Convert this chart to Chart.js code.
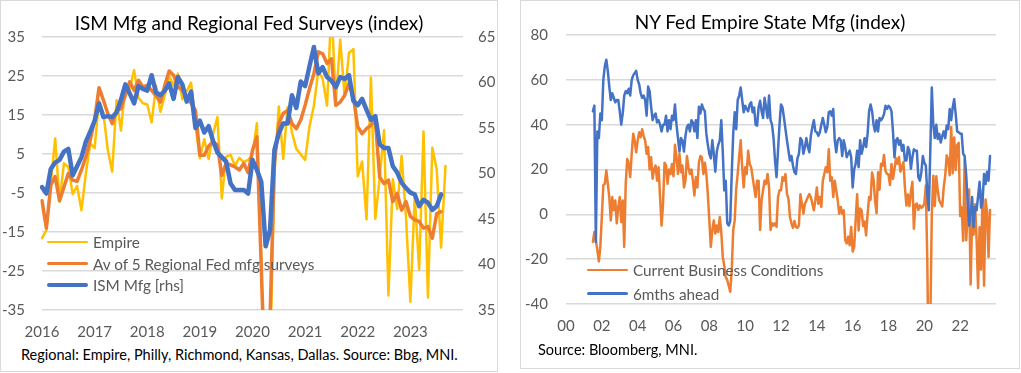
<!DOCTYPE html>
<html>
<head>
<meta charset="utf-8">
<script src="https://cdn.jsdelivr.net/npm/chart.js@4.4.0/dist/chart.umd.min.js"></script>
<style>
  html, body { margin: 0; padding: 0; background: #fff; }
  body { width: 1021px; height: 373px; position: relative; overflow: hidden; font-family: Lato, "Open Sans", sans-serif; }
  .panel { position: absolute; border: 1px solid #d9d9d9; box-sizing: border-box; background: #fff; }
  .txt { position: absolute; white-space: nowrap; z-index: 3; }
  .title { color: #000; font-size: 19px; line-height: 22px; text-align: center; }
  .foot { color: #000; font-size: 14.5px; line-height: 18px; }
  .canvasbox { position: absolute; z-index: 2; }
  .legend { position: absolute; z-index: 3; }
  .legend .row { position: absolute; left: 0; height: 20px; display: flex; align-items: center; white-space: nowrap; color: #595959; font-size: 15.3px; }
  .legend .sw { display: inline-block; width: 41px; margin-right: 5px; border-radius: 2px; }
</style>
</head>
<body>
  <div class="panel" style="left:0;top:0;width:498px;height:372px;"></div>
  <div class="panel" style="left:520px;top:0;width:500px;height:369px;"></div>

  <div class="txt title" style="left:0;width:498px;top:12px;">ISM Mfg and Regional Fed Surveys (index)</div>
  <div class="txt title" style="left:520px;width:500px;top:11px;">NY Fed Empire State Mfg (index)</div>

  <div class="canvasbox" style="left:1px;top:0;width:496px;height:345px;"><canvas id="left" width="496" height="345"></canvas></div>
  <div class="canvasbox" style="left:522px;top:0;width:496px;height:345px;"><canvas id="right" width="496" height="345"></canvas></div>

  <div id="legendLeft" class="legend" style="left:47px;top:232px;"></div>
  <div id="legendRight" class="legend" style="left:587px;top:260px;"></div>

  <div class="txt foot" style="left:21px;top:346px;">Regional: Empire, Philly, Richmond, Kansas, Dallas. Source: Bbg, MNI.</div>
  <div class="txt foot" style="left:538px;top:341px;">Source: Bloomberg, MNI.</div>

<script>
// ---------------- DATA ----------------
// Left chart: monthly category axis Jan 2016 .. Jan 2024
const leftAxisStart = '2016-01';
const leftAxisEnd = '2024-01';
const leftLastYearLabel = 2023;

// Empire State general business conditions (left chart), from Jan 2016
const empireLeft = [
  -16.6, -14.5, -2.6, 9.0, -7.2, 2.6, 1.7, -5.3, -3.2, -9.4, 0.0, 7.7,
  6.5, 18.7, 15.5, 6.0, 0.5, 18.8, 11.0, 22.6, 21.6, 26.5, 19.4, 18.0,
  17.7, 13.1, 22.5, 15.8, 20.1, 25.0, 22.6, 25.6, 19.0, 21.1, 23.3, 12.0,
  3.9, 8.8, 3.7, 10.1, 14.5, -6.4, 4.3, 4.8, 2.0, 4.0, 2.9, 3.5,
  4.8, 12.9, -21.5, -78.2, -48.5, -0.2, 17.2, 3.7, 17.0, 10.5, 6.3, 4.9,
  3.5, 12.1, 17.4, 26.3, 24.3, 17.4, 43.0, 18.3, 34.3, 19.8, 30.9, 31.9,
  -0.7, 3.1, -11.8, 24.6, -11.6, -1.2, 11.1, -31.3, -1.5, -9.1, 4.5, -11.2,
  -32.9, -5.8, -24.6, 10.8, -31.8, 6.6, 1.1, -19.0, 1.9
];

// Average of 5 regional Fed manufacturing surveys, from Jan 2016
const regionalAvg = [
  -7.0, -14.0, -3.0, -0.8, -7.0, -3.5, 0.0, -1.7, -2.0, 0.9, 4.3, 8.6,
  13.7, 22.0, 18.8, 15.4, 12.8, 16.2, 16.6, 20.0, 23.5, 21.3, 23.9, 22.2,
  22.6, 21.3, 20.0, 18.3, 22.6, 26.3, 25.2, 22.2, 21.3, 19.5, 18.0, 16.2,
  4.7, 4.7, 7.0, 8.2, 7.3, -0.5, 2.6, 2.2, 1.7, 0.9, 2.6, 0.2,
  6.0, 9.4, -24.0, -58.0, -37.0, 3.0, 12.8, 15.4, 16.2, 12.8, 11.5, 13.7,
  17.5, 21.8, 25.6, 31.2, 30.7, 28.2, 29.4, 17.5, 18.3, 20.0, 23.0, 19.6,
  12.0, 10.2, 11.5, 12.4, 13.7, -0.9, -2.6, -1.7, -7.2, -5.1, -9.4, -7.2,
  -11.0, -11.9, -12.3, -14.0, -13.6, -16.6, -10.3, -9.8
];

// ISM manufacturing PMI (right-hand scale), from Jan 2016
const ismMfg = [
  48.5, 47.8, 50.5, 51.2, 51.5, 52.4, 52.7, 49.8, 50.8, 51.8, 53.5, 54.6,
  55.8, 57.7, 56.2, 56.3, 56.2, 56.7, 58.1, 59.8, 58.8, 57.7, 59.6, 59.3,
  59.1, 60.8, 58.9, 58.6, 59.1, 59.9, 58.2, 60.6, 59.8, 57.9, 59.0, 55.0,
  55.8, 54.5, 55.2, 53.6, 52.3, 51.8, 51.3, 48.9, 48.2, 48.2, 48.2, 47.8,
  51.5, 50.4, 49.1, 42.0, 43.8, 52.6, 54.4, 55.5, 55.5, 58.6, 57.2, 60.1,
  59.6, 61.8, 63.9, 61.0, 61.7, 60.6, 60.2, 59.5, 60.6, 60.4, 60.8, 58.0,
  57.5, 58.2, 57.0, 55.9, 56.3, 53.2, 52.8, 52.8, 50.8, 50.1, 49.0, 48.4,
  47.9, 47.7, 46.4, 47.1, 46.8, 46.0, 46.4, 47.7
];

const leftYTicks = { min: -35, max: 35, step: 10 };
const leftY1Ticks = { min: 35, max: 65, step: 5 };
const leftLabels = ['Empire', 'Av of 5 Regional Fed mfg surveys', 'ISM Mfg [rhs]'];

// Right chart: monthly category axis Jan 2000 .. Jan 2024
const rightAxisStart = '2000-01';
const rightAxisEnd = '2024-01';
const rightLastYearLabel = 2022;
const rightSeriesStart = '2001-07';

// Empire current business conditions, from Jul 2001
const currentConditions = [
  -12.3, -7.9, -11.6, -16.0, -21.0, -14.5,
  -1.0, 13.0, 13.6, 19.6, 13.6, 7.7, -2.7, 7.7, 1.8, 6.2, -4.0, 3.3,
  7.7, -3.4, 6.2, -14.5, 13.6, 24.7, 22.5, 16.6, 27.0, 35.9, 32.9, 27.7,
  32.9, 36.6, 34.4, 38.0, 35.0, 33.0, 27.0, 30.0, 20.0, 25.5, 15.9, 20.0,
  21.8, 15.0, 21.0, 7.7, -5.0, 4.7, 23.0, 21.8, 13.6, 20.0, 18.0, 22.5,
  17.0, 31.0, 25.5, 18.0, 27.0, 18.8, 21.8, 12.0, 15.0, 26.0, 21.0, 18.0,
  20.0, 15.0, 8.4, 16.6, 12.0, 23.0, 26.0, 25.5, 18.0, 23.0, 18.0, 9.0,
  -2.7, -14.5, -7.0, -2.7, -8.6, -5.0, -7.9, -1.2, -7.9, -19.0, -23.0, -28.0,
  -29.3, -32.0, -34.5, -25.0, -7.0, -2.7, 11.4, 18.0, 26.0, 33.0, 21.0, 12.0,
  21.0, 18.0, 28.4, 22.5, 21.0, 16.6, 12.0, 7.7, 15.0, 15.0, -7.0, 6.2,
  10.7, 15.0, 13.6, 18.0, 12.0, -7.0, -4.0, -5.0, -4.0, -5.6, 7.7, 10.7,
  10.7, 16.6, 15.0, 18.0, 9.0, 7.0, -1.2, -4.0, -6.0, -3.0, -5.6, -6.0,
  -5.0, 9.0, 4.7, 0.3, 4.7, 6.2, 7.7, 9.0, 7.7, 4.7, 1.8, 6.2,
  12.0, 4.7, 7.7, 3.3, 15.0, 18.0, 21.0, 18.8, 29.0, 15.0, 16.6, 7.7,
  15.0, 10.7, 6.2, 0.3, 3.3, 0.3, 1.8, -11.6, -13.0, -10.0, -13.8, -5.6,
  -16.6, -14.5, -2.6, 9.0, -7.2, 2.6, 1.7, -5.3, -3.2, -9.4, 0.0, 7.7,
  6.5, 18.7, 15.5, 6.0, 0.5, 18.8, 11.0, 22.6, 21.6, 26.5, 19.4, 18.0,
  17.7, 13.1, 22.5, 15.8, 20.1, 25.0, 22.6, 25.6, 19.0, 21.1, 23.3, 12.0,
  3.9, 8.8, 3.7, 10.1, 14.5, -6.4, 4.3, 4.8, 2.0, 4.0, 2.9, 3.5,
  4.8, 12.9, -21.5, -78.2, -48.5, -0.2, 17.2, 3.7, 17.0, 10.5, 6.3, 4.9,
  3.5, 12.1, 17.4, 26.3, 24.3, 17.4, 39.0, 18.3, 34.3, 19.8, 30.9, 31.9,
  -0.7, 3.1, -11.8, 24.6, -11.6, -1.2, 11.1, -31.3, -1.5, -9.1, 4.5, -11.2,
  -32.9, -5.8, -24.6, 10.8, -31.8, 6.6, 1.1, -19.0, 1.9
];

// Empire 6 months ahead (future general business conditions), from Jul 2001
const sixMonthsAhead = [
  46.0, 48.5, -12.3, 37.0, 34.0, 45.0,
  42.0, 60.0, 66.0, 69.0, 64.0, 57.0, 51.0, 54.0, 52.0, 50.0, 51.0, 51.0,
  46.0, 40.0, 45.0, 53.0, 55.0, 54.0, 56.0, 53.0, 60.0, 62.0, 63.0, 64.0,
  60.0, 58.0, 54.0, 52.0, 53.0, 51.0, 44.0, 57.0, 55.0, 48.0, 42.0, 44.0,
  45.0, 41.0, 42.0, 40.0, 37.0, 40.0, 40.0, 44.0, 37.0, 42.0, 38.0, 44.0,
  42.0, 49.0, 40.0, 34.0, 28.0, 34.0, 33.0, 28.0, 35.0, 39.0, 40.0, 37.0,
  42.0, 41.0, 37.0, 42.0, 34.0, 48.0, 45.0, 49.0, 47.0, 46.0, 36.0, 31.0,
  27.0, 25.0, 33.0, 27.0, 19.0, 28.0, 31.0, 33.0, 42.0, 28.0, 10.7, 15.0,
  -4.0, -5.0, -3.0, 18.0, 36.0, 45.5, 38.0, 51.0, 53.0, 56.6, 51.0, 45.5,
  48.4, 47.0, 46.0, 49.0, 50.0, 45.5, 47.7, 40.0, 39.6, 47.7, 50.7, 46.0,
  43.0, 52.0, 47.7, 43.0, 53.0, 42.0, 40.0, 34.0, 24.0, 16.6, 28.4, 40.0,
  49.0, 47.7, 43.0, 38.0, 33.0, 28.4, 24.0, 26.0, 21.8, 18.8, 18.0, 25.0,
  27.0, 34.0, 33.0, 27.0, 30.0, 34.0, 30.0, 27.7, 35.0, 39.0, 42.0, 37.0,
  36.6, 35.0, 36.6, 40.0, 43.0, 40.0, 36.6, 39.0, 45.5, 46.0, 44.0, 47.0,
  33.0, 27.7, 33.0, 34.0, 33.0, 26.0, 33.0, 30.0, 25.5, 27.0, 28.4, 25.5,
  12.0, 20.0, 22.5, 28.4, 21.0, 33.0, 27.0, 30.0, 34.0, 30.0, 36.0, 46.0,
  49.0, 46.0, 40.0, 37.0, 42.0, 37.0, 43.0, 42.0, 43.0, 44.7, 48.4, 47.0,
  48.4, 47.7, 46.0, 37.0, 25.5, 33.0, 34.0, 31.0, 33.0, 28.4, 31.0, 24.0,
  24.0, 30.0, 28.4, 20.3, 25.5, 29.0, 28.4, 28.4, 16.6, 15.0, 18.8, 26.0,
  23.0, 21.8, 9.0, 1.8, 28.4, 56.6, 40.0, 34.0, 40.0, 33.6, 35.9, 32.0,
  35.0, 37.0, 34.0, 39.6, 38.0, 47.0, 42.0, 47.7, 51.4, 44.7, 37.0, 36.6,
  36.0, 36.0, 27.0, 26.0, 18.0, 6.2, -5.0, 0.3, 7.7, -5.6, 3.3, 1.8,
  8.0, 14.5, 3.0, 6.0, 18.0, 13.5, 19.0, 15.0, 26.0
];

const rightYTicks = { min: -40, max: 80, step: 20 };
const rightLabels = ['Current Business Conditions', '6mths ahead'];

// ---------------- HELPERS ----------------
function monthKey(t) { return Math.floor(t / 12) + '-' + String(t % 12 + 1).padStart(2, '0'); }
function monthIndex(key) { const p = key.split('-').map(Number); return p[0] * 12 + p[1] - 1; }
function monthRange(a, b) { const out = []; for (let t = monthIndex(a); t <= monthIndex(b); t++) out.push(monthKey(t)); return out; }
function toPoints(start, values) { const s = monthIndex(start); return values.map((v, i) => ({ x: monthKey(s + i), y: v })); }

const COL = { yellow: '#FFC000', orange: '#ED7D31', blue: '#4472C4', grid: '#D9D9D9', tick: '#595959' };
Chart.defaults.font.family = 'Lato, "Open Sans", sans-serif';
Chart.defaults.color = COL.tick;
function tickFont() { return { family: 'Lato', size: 15 }; }

function lineDs(label, data, color, width, order, axis) {
  return { label, data, borderColor: color, backgroundColor: color, borderWidth: width,
           pointRadius: 0, pointHoverRadius: 0, tension: 0, fill: false, order,
           borderJoinStyle: 'round', borderCapStyle: 'round', yAxisID: axis || 'y' };
}

// HTML legend generated from the chart's own datasets
function buildLegend(el, chart, idxOrder) {
  idxOrder.forEach((di, r) => {
    const ds = chart.data.datasets[di];
    const row = document.createElement('div');
    row.className = 'row';
    row.style.top = (r * el.dataset.step) + 'px';
    const sw = document.createElement('span');
    sw.className = 'sw';
    sw.style.height = ds.borderWidth + 'px';
    sw.style.background = ds.borderColor;
    const tx = document.createElement('span');
    tx.textContent = ds.label;
    row.appendChild(sw); row.appendChild(tx);
    el.appendChild(row);
  });
}

// ---------------- LEFT CHART ----------------
const leftAxis = monthRange(leftAxisStart, leftAxisEnd);
const leftChart = new Chart(document.getElementById('left'), {
  type: 'line',
  data: {
    labels: leftAxis,
    datasets: [
      lineDs(leftLabels[2], toPoints(leftAxisStart, ismMfg), COL.blue, 4.5, 0, 'y1'),
      lineDs(leftLabels[1], toPoints(leftAxisStart, regionalAvg), COL.orange, 3.5, 1, 'y'),
      lineDs(leftLabels[0], toPoints(leftAxisStart, empireLeft), COL.yellow, 2.5, 2, 'y')
    ]
  },
  options: {
    responsive: false, animation: false, events: [], devicePixelRatio: 1,
    layout: { padding: { top: 37, bottom: 0, left: 0, right: 0 } },
    plugins: { legend: { display: false }, tooltip: { enabled: false }, title: { display: false } },
    scales: {
      x: {
        type: 'category', offset: false,
        grid: { display: false, drawTicks: false }, border: { display: false },
        ticks: {
          autoSkip: false, maxRotation: 0, minRotation: 0, padding: 13, color: COL.tick, font: tickFont(),
          callback: function (v) {
            const k = this.getLabelForValue(v);
            const y = +k.slice(0, 4);
            return (k.endsWith('-01') && y <= leftLastYearLabel) ? String(y) : '';
          }
        },
        afterFit: s => { s.height = 35; }
      },
      y: {
        position: 'left', min: leftYTicks.min, max: leftYTicks.max,
        ticks: { stepSize: leftYTicks.step, padding: 17, color: COL.tick, font: tickFont() },
        grid: { color: COL.grid, lineWidth: 1.5, drawTicks: false }, border: { display: false },
        afterFit: s => { s.width = 41; }
      },
      y1: {
        position: 'right', min: leftY1Ticks.min, max: leftY1Ticks.max,
        ticks: { stepSize: leftY1Ticks.step, padding: 15, color: COL.tick, font: tickFont() },
        grid: { display: false, drawTicks: false }, border: { display: false },
        afterFit: s => { s.width = 34; }
      }
    }
  }
});

// ---------------- RIGHT CHART ----------------
const rightAxis = monthRange(rightAxisStart, rightAxisEnd);
const rightChart = new Chart(document.getElementById('right'), {
  type: 'line',
  data: {
    labels: rightAxis,
    datasets: [
      lineDs(rightLabels[1], toPoints(rightSeriesStart, sixMonthsAhead), COL.blue, 2.5, 0),
      lineDs(rightLabels[0], toPoints(rightSeriesStart, currentConditions), COL.orange, 2.5, 1)
    ]
  },
  options: {
    responsive: false, animation: false, events: [], devicePixelRatio: 1,
    layout: { padding: { top: 35, bottom: 0, left: 0, right: 22 } },
    plugins: { legend: { display: false }, tooltip: { enabled: false }, title: { display: false } },
    scales: {
      x: {
        type: 'category', offset: false,
        grid: { display: false, drawTicks: false }, border: { display: false },
        ticks: {
          autoSkip: false, maxRotation: 0, minRotation: 0, padding: 13, color: COL.tick, font: tickFont(),
          callback: function (v) {
            const k = this.getLabelForValue(v);
            const y = +k.slice(0, 4);
            return (k.endsWith('-01') && y % 2 === 0 && y <= rightLastYearLabel) ? String(y % 100).padStart(2, '0') : '';
          }
        },
        afterFit: s => { s.height = 41; }
      },
      y: {
        position: 'left', min: rightYTicks.min, max: rightYTicks.max,
        ticks: { stepSize: rightYTicks.step, padding: 18, color: COL.tick, font: tickFont() },
        grid: { color: COL.grid, lineWidth: 1.5, drawTicks: false }, border: { display: false },
        afterFit: s => { s.width = 44; }
      }
    }
  }
});

const lgL = document.getElementById('legendLeft'); lgL.dataset.step = 21.6;
buildLegend(lgL, leftChart, [2, 1, 0]);
const lgR = document.getElementById('legendRight'); lgR.dataset.step = 23.7;
buildLegend(lgR, rightChart, [1, 0]);
</script>
</body>
</html>
